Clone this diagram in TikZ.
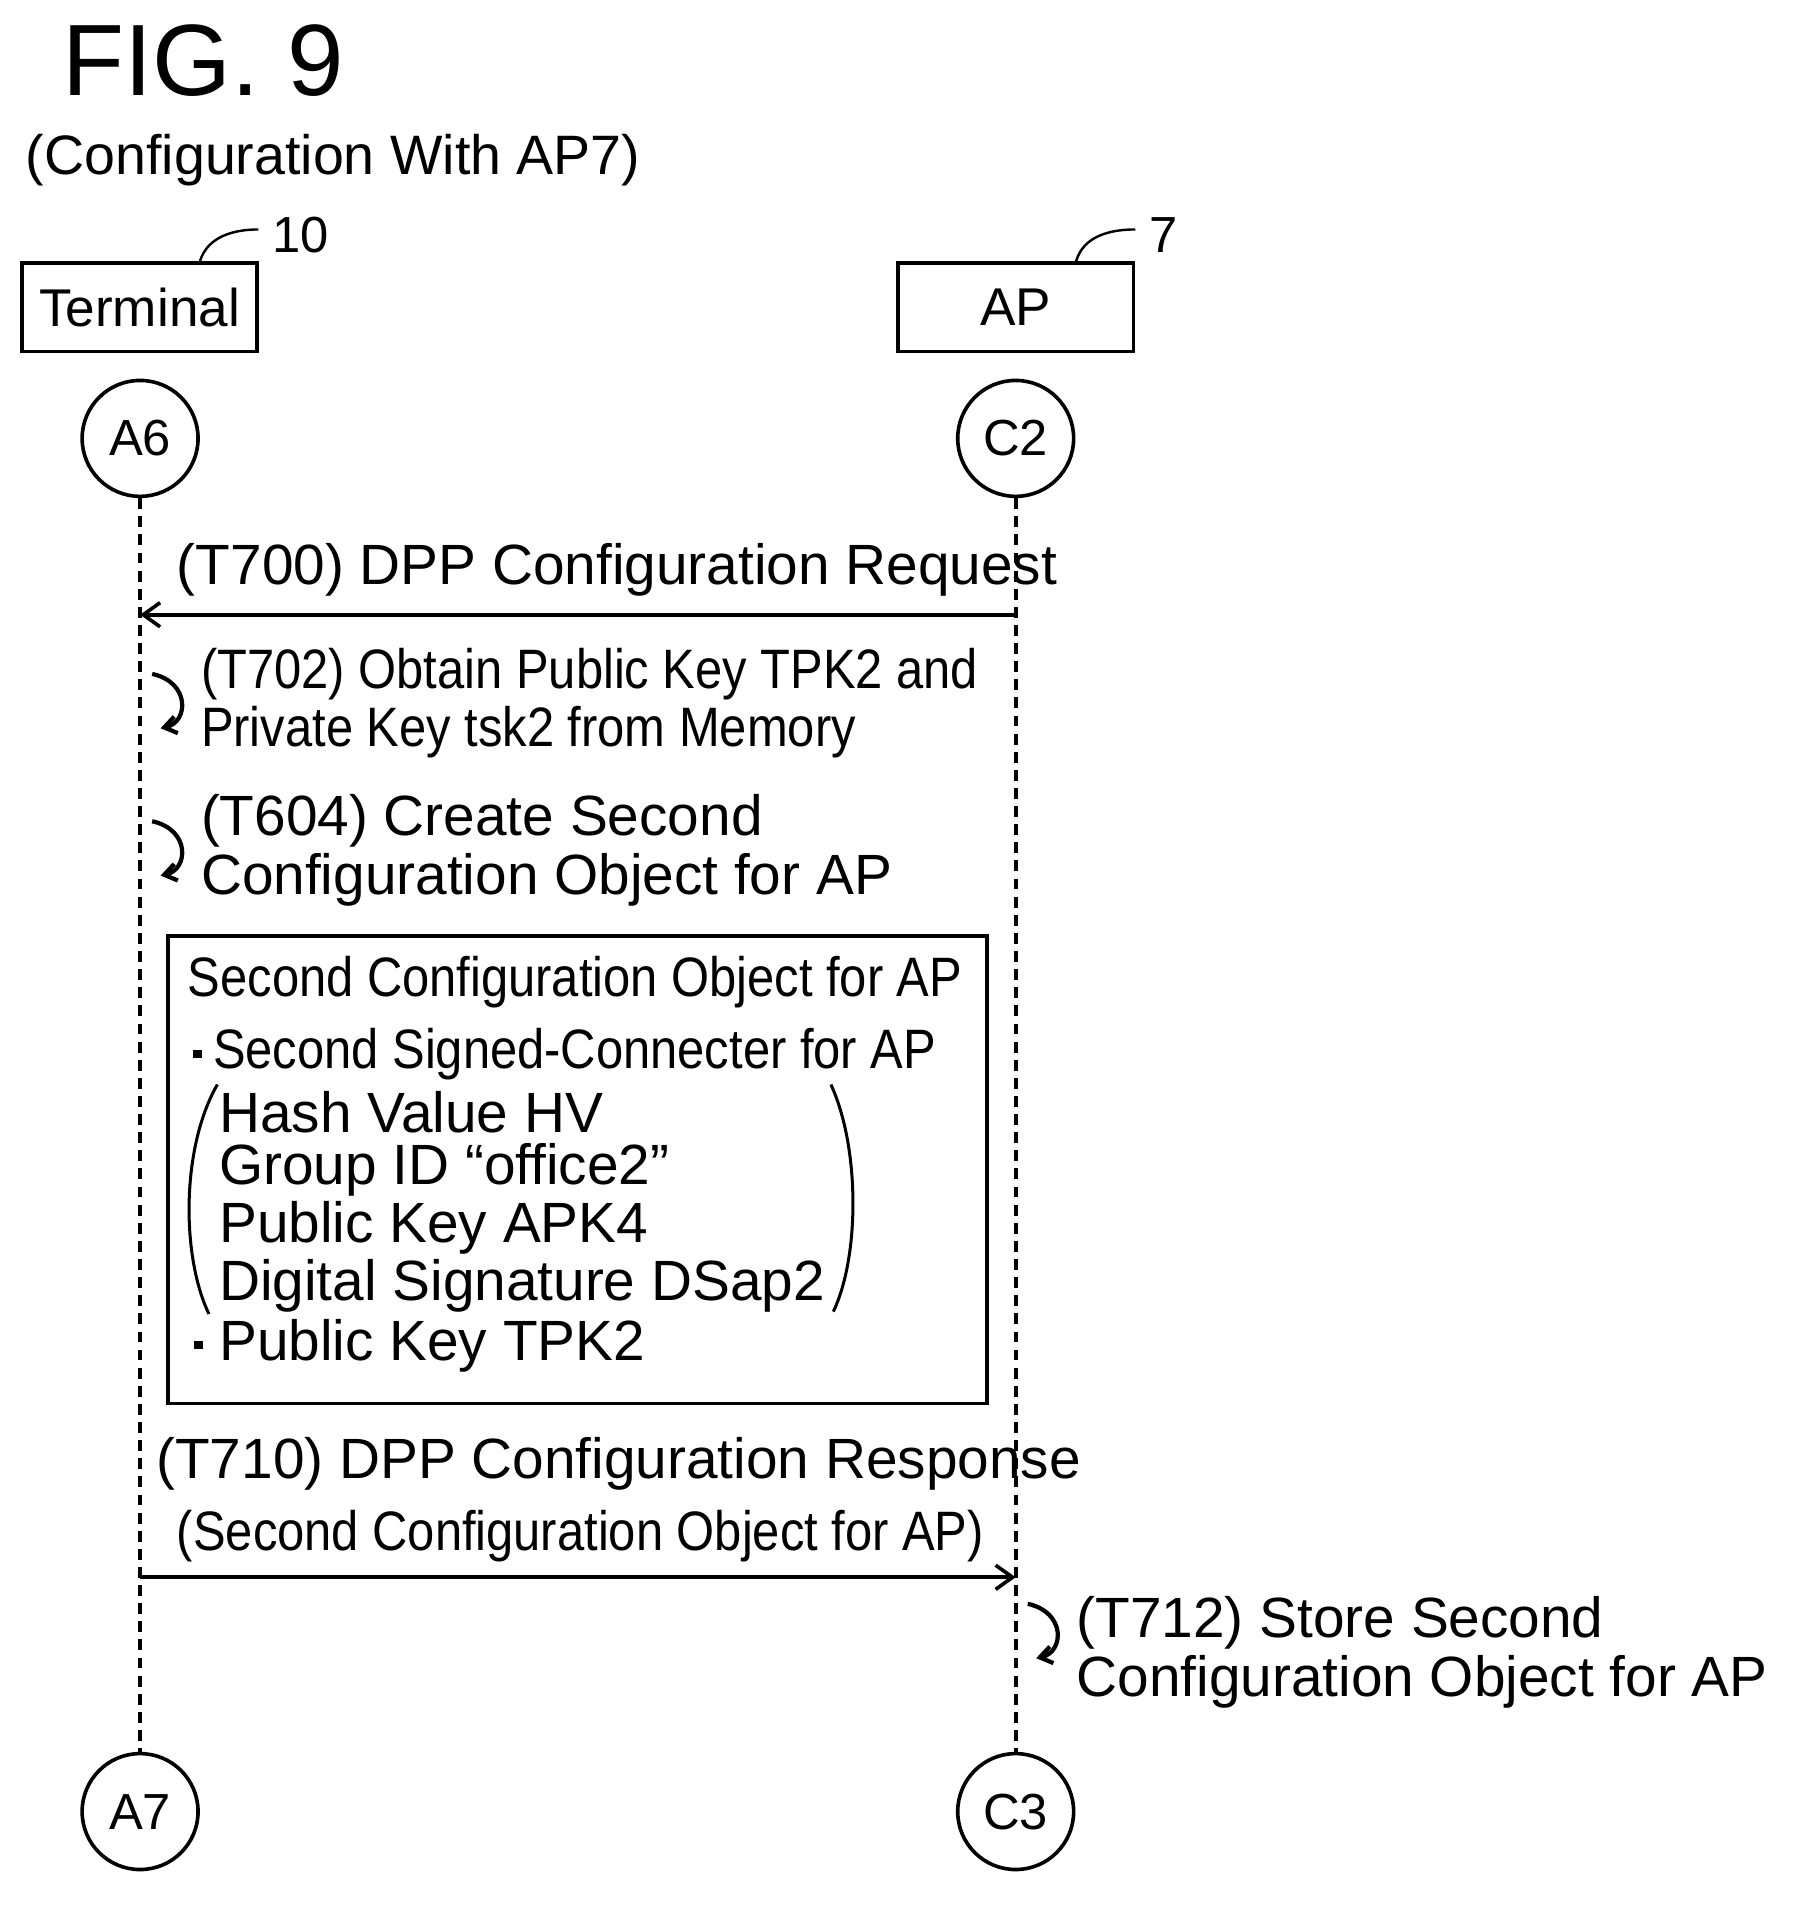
\documentclass[tikz,border=0pt]{standalone}
\usepackage{fontspec}
\setmainfont{Liberation Sans}
\newfontfamily\narrowf[FakeStretch=0.88]{Liberation Sans}
\usetikzlibrary{arrows.meta}
\begin{document}
\begin{tikzpicture}[x=1pt,y=-1pt,line width=3pt,
  txt/.style={anchor=west,inner sep=0pt,font=\fontsize{47}{49}\selectfont,align=left},
  ntxt/.style={anchor=west,inner sep=0pt,font=\narrowf\fontsize{46}{48}\selectfont,align=left},
  ent/.style={draw,minimum width=195,minimum height=73,inner sep=0pt,font=\fontsize{44}{50}\selectfont},
  conn/.style={draw,circle,minimum size=96,inner sep=0pt,font=\fontsize{42}{48}\selectfont},
  life/.style={dash pattern=on 9pt off 6pt},
  msg/.style={-{Straight Barb[length=14pt,width=20pt]}},
  curl/.style={-{Straight Barb[length=10pt,width=14pt]},line width=3.5pt}]
\useasboundingbox (0,0) rectangle (1500,1584);
\node[anchor=west,inner sep=0pt,font=\fontsize{84}{90}\selectfont] (fig) at (50,50) {FIG. 9};
\node[txt,font=\fontsize{46}{50}\selectfont] (cfg) at (20,133) {(Configuration With AP7)};
\node[ent] (term) at (115.5,254.5) {Terminal};
\node[ent] (ap) at (841,254.5) {AP};
\node[txt,font=\fontsize{42}{48}\selectfont] (r10) at (224,195) {10};
\node[txt,font=\fontsize{42}{48}\selectfont] (r7) at (950,195) {7};
\draw[line width=2pt] (term.north)++(50,0) .. controls (172,195) and (195,190) .. (214,190);
\draw[line width=2pt] (ap.north)++(50,0) .. controls (897,195) and (920,190) .. (940,190);
\node[conn] (a6) at (116,363) {A6};
\node[conn] (c2) at (841,363) {C2};
\node[conn] (a7) at (116,1500) {A7};
\node[conn] (c3) at (841,1500) {C3};
\draw[life] (a6) -- (a7);
\draw[life] (c2) -- (c3);
\coordinate (m1s) at (841,509); \coordinate (m1e) at (116,509);
\draw[msg] (m1s) -- (m1e);
\node[txt] (t700) at (145,472) {(T700) DPP Configuration Request};
\draw[curl] (126,558) .. controls (158,565) and (156,598) .. (133,603);
\node[ntxt] (t702) at (165,582) {(T702) Obtain Public Key TPK2 and\\Private Key tsk2 from Memory};
\draw[curl] (126,680) .. controls (158,687) and (156,720) .. (133,725);
\node[txt] (t604) at (165,704) {(T604) Create Second\\Configuration Object for AP};
\draw[fill=white] (139,775) rectangle (817,1162);
\node[ntxt] (b1) at (154,813) {Second Configuration Object for AP};
\fill (160,869) rectangle (167,876);
\node[ntxt] (b2) at (175,873) {Second Signed-Connecter for AP};
\node[txt] (b3) at (180,921) {Hash Value HV};
\node[txt] (b4) at (180,969) {Group ID “office2”};
\node[txt] (b5) at (180,1017) {Public Key APK4};
\node[txt] (b6) at (180,1065) {Digital Signature DSap2};
\fill (161,1110) rectangle (168,1117);
\node[txt] (b7) at (180,1114) {Public Key TPK2};
\draw[line width=2.5pt] (180,898) .. controls (150,950) and (150,1040) .. (173,1088);
\draw[line width=2.5pt] (688,898) .. controls (712,950) and (712,1040) .. (690,1086);
\node[txt] (t710) at (128,1212) {(T710) DPP Configuration Response};
\node[ntxt] (t710b) at (145,1272) {(Second Configuration Object for AP)};
\coordinate (m2s) at (116,1306); \coordinate (m2e) at (841,1306);
\draw[msg] (m2s) -- (m2e);
\draw[curl] (851,1328) .. controls (883,1335) and (881,1368) .. (858,1373);
\node[txt] (t712) at (890,1368) {(T712) Store Second\\Configuration Object for AP};
\end{tikzpicture}
\end{document}
